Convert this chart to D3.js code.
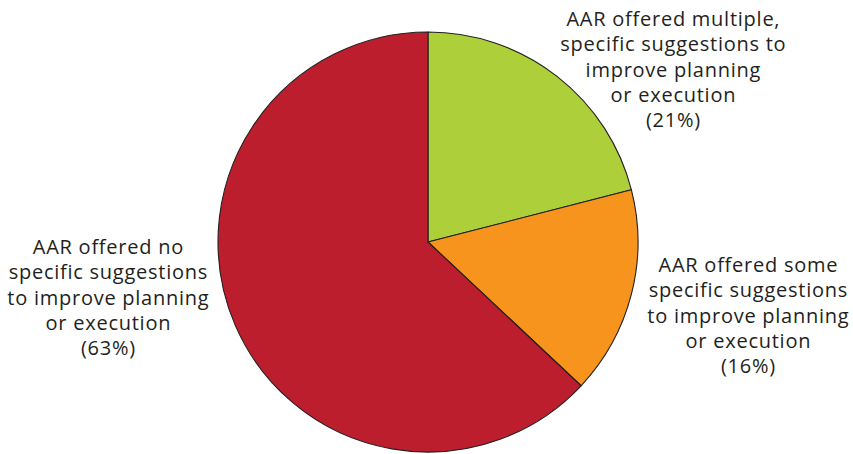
<!DOCTYPE html>
<html>
<head>
<meta charset="utf-8">
<script src="https://cdn.jsdelivr.net/npm/d3@7"></script>
<style>
  html, body { margin: 0; padding: 0; background: #fff; }
  svg { display: block; }
  text { font-family: "Open Sans", "Noto Sans", sans-serif; fill: #231F20; }
</style>
</head>
<body>
<svg id="chart" width="853" height="454"></svg>
<script>
// Share of AARs by how specific their suggestions were (percent)
const categories = [
  "AAR offered multiple, specific suggestions to improve planning or execution",
  "AAR offered some specific suggestions to improve planning or execution",
  "AAR offered no specific suggestions to improve planning or execution"
];
const values = [21, 16, 63];
const colors = ["#ADCF3A", "#F7941D", "#BC1E2D"];
// Label lines as typeset beside each slice
const labelLines = [
  ["AAR offered multiple,", "specific suggestions to", "improve planning", "or execution", "(21%)"],
  ["AAR offered some", "specific suggestions", "to improve planning", "or execution", "(16%)"],
  ["AAR offered no", "specific suggestions", "to improve planning", "or execution", "(63%)"]
];
const labelAnchors = [[673, 19], [748, 265], [108, 247]];

const svg = d3.select("#chart");
const cx = 428, cy = 242, r = 210;

const pie = d3.pie().sort(null).value(d => d.value);
const arc = d3.arc().innerRadius(0).outerRadius(r);
const data = values.map((v, i) => ({ name: categories[i], value: v, i }));

const g = svg.append("g").attr("transform", `translate(${cx},${cy})`);
g.selectAll("path")
  .data(pie(data))
  .join("path")
  .attr("d", arc)
  .attr("fill", d => colors[d.data.i])
  .attr("stroke", "#231F20")
  .attr("stroke-width", 1.1)
  .attr("stroke-linejoin", "round");

const lineH = 25.3;
const fontSize = 20, tracking = 0.75;
labelLines.forEach((lines, i) => {
  const grp = svg.append("g").attr("class", "label");
  lines.forEach((s, k) => {
    grp.append("text")
      .attr("text-anchor", "middle")
      .attr("font-size", fontSize)
      .attr("letter-spacing", tracking)
      .attr("x", labelAnchors[i][0] + tracking / 2)
      .attr("y", labelAnchors[i][1] + k * lineH)
      .attr("dy", "0.35em")
      .text(s);
  });
});
</script>
</body>
</html>
